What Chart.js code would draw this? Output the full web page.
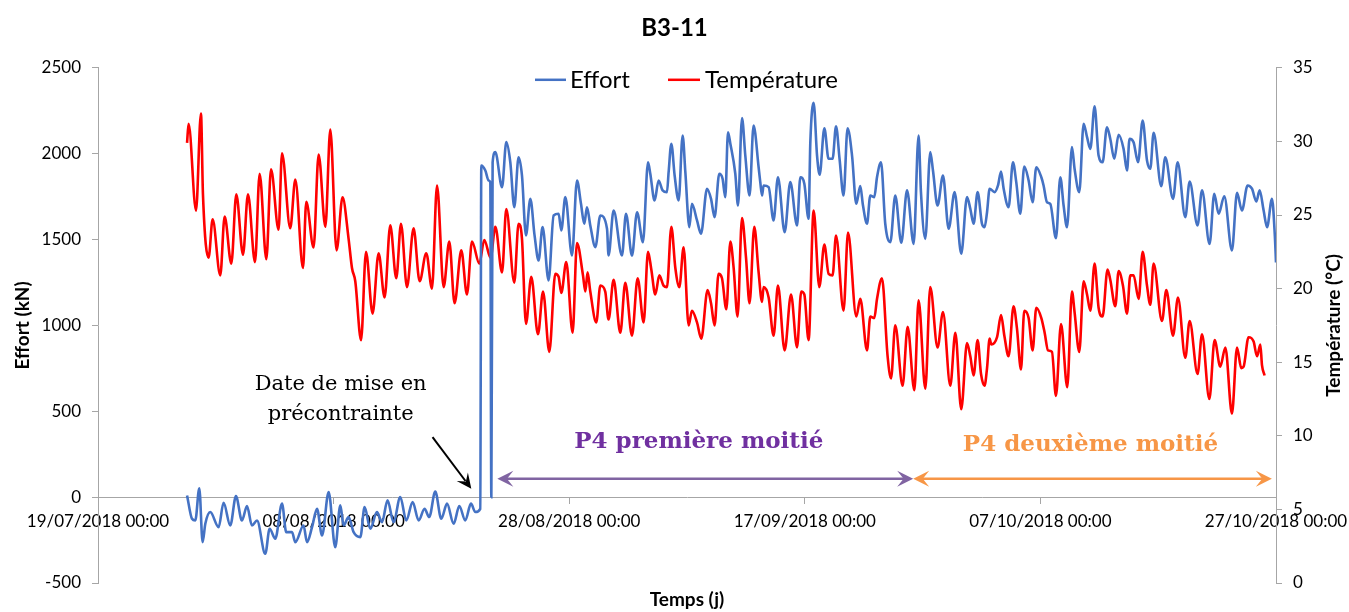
<!DOCTYPE html>
<html lang="fr">
<head>
<meta charset="utf-8">
<title>B3-11</title>
<script src="https://cdn.jsdelivr.net/npm/chart.js@4.4.1/dist/chart.umd.min.js"></script>
<style>
    html, body { margin: 0; padding: 0; background: #fff; }
    #wrap { position: relative; width: 1349px; height: 612px; }
</style>
</head>
<body>
<div id="wrap"><canvas id="chart"></canvas></div>
<script>
// ---- data (days since 19/07/2018 00:00) ----
const effortDays = [
    7.56, 7.98, 8.26, 8.60, 8.88, 9.11, 9.53, 10.24, 10.66, 11.23,
    11.71, 12.22, 12.65, 13.07, 13.50, 14.20, 14.57, 15.05, 15.62, 15.98,
    16.47, 16.75, 17.45, 17.74, 18.17, 18.59, 19.02, 19.58, 20.14, 20.57,
    20.85, 21.27, 21.70, 22.27, 22.63, 23.12, 23.68, 24.11, 24.58, 25.09,
    25.66, 26.17, 26.71, 27.22, 27.72, 28.12, 28.63, 29.14, 29.63, 30.19,
    30.67, 31.18, 31.66, 32.03, 32.45, 32.54, 32.88, 33.16, 33.30, 33.39,
    33.50, 33.73, 34.30, 34.66, 35.00, 35.34, 35.70, 35.99, 36.33, 36.70,
    37.06, 37.40, 37.74, 38.25, 38.68, 39.10, 39.33, 39.67, 40.24, 40.66,
    41.00, 41.28, 41.51, 41.79, 42.22, 42.64, 43.21, 43.34, 43.77, 44.48,
    44.82, 45.33, 45.76, 46.26, 46.69, 46.88, 47.25, 47.59, 47.93, 48.30,
    48.44, 48.67, 48.95, 49.29, 49.63, 49.86, 50.20, 50.42, 50.85, 51.19,
    51.70, 52.04, 52.34, 52.74, 53.02, 53.25, 53.48, 53.68, 54.10, 54.33,
    54.67, 54.95, 55.31, 55.65, 56.08, 56.22, 56.37, 56.50, 56.93, 57.35,
    57.72, 58.29, 58.77, 59.34, 59.62, 59.96, 60.32, 60.47, 60.75, 61.04,
    61.26, 61.66, 62.02, 62.36, 62.65, 62.95, 63.29, 63.63, 64.01, 64.37,
    64.71, 64.94, 65.28, 65.56, 65.90, 66.13, 66.47, 66.83, 67.26, 67.68,
    68.19, 68.68, 69.24, 69.66, 69.86, 70.23, 70.65, 70.88, 71.27, 71.73,
    72.21, 72.72, 73.28, 73.77, 74.05, 74.33, 74.67, 75.04, 75.26, 75.47,
    75.69, 76.11, 76.40, 76.66, 76.88, 77.30, 77.67, 77.95, 78.29, 78.63,
    79.00, 79.34, 79.65, 80.08, 80.27, 80.56, 80.84, 81.32, 81.69, 81.97,
    82.26, 82.68, 82.90, 83.30, 83.67, 83.96, 84.24, 84.60, 84.94, 85.28,
    85.65, 85.93, 86.27, 86.64, 87.06, 87.35, 87.57, 87.91, 88.29, 88.68,
    89.05, 89.33, 89.61, 90.26, 90.60, 91.26, 91.65, 92.30, 92.67, 93.34,
    93.72, 94.36, 94.76, 95.13, 95.61, 96.26, 96.69, 97.11, 97.59, 97.96,
    98.33, 98.61, 98.95, 99.24, 99.66, 99.90, 100.0
];
const effortKN = [
    10, -126, -136, 52, -262, -155, -87, -175, -33, -165,
    6, -136, -52, -165, -136, -330, -184, -242, -38, -204,
    -204, -262, -165, -262, -175, -68, -223, 29, -291, -48,
    -165, -116, -204, -233, -58, -184, -87, -146, -19, -146,
    0, -136, -29, -136, -68, -116, 33, -126, -38, -155,
    -52, -136, -38, -87, -68, 1931, 1902, 1844, 1834, 0,
    1950, 2009, 1805, 2067, 1950, 1688, 1979, 1873, 1524, 1737,
    1524, 1378, 1572, 1262, 1640, 1650, 1553, 1747, 1407, 1844,
    1708, 1592, 1688, 1582, 1456, 1640, 1563, 1407, 1669, 1407,
    1650, 1407, 1659, 1485, 1950, 1885, 1727, 1844, 1786, 1776,
    1892, 2058, 1873, 1727, 2106, 1892, 1572, 1708, 1611, 1534,
    1796, 1737, 1630, 1883, 1854, 1747, 2125, 2058, 1883, 1698,
    2207, 1989, 1756, 2164, 1921, 1834, 1756, 1815, 1805, 1611,
    1863, 1543, 1834, 1582, 1863, 1825, 1621, 2067, 2296, 1989,
    1877, 2148, 1970, 1970, 2160, 1970, 1756, 2148, 1989, 1708,
    1811, 1698, 1592, 1756, 1747, 1863, 1950, 1592, 1485, 1756,
    1481, 1786, 1475, 2106, 1776, 1504, 2009, 1902, 1698, 1873,
    1563, 1776, 1417, 1747, 1679, 1592, 1776, 1592, 1572, 1659,
    1796, 1776, 1815, 1896, 1796, 1688, 1950, 1834, 1650, 1925,
    1844, 1717, 1921, 1863, 1815, 1717, 1708, 1508, 1863, 1698,
    1572, 2038, 1912, 1776, 2174, 2096, 2028, 2276, 1989, 1950,
    2154, 2087, 1970, 2110, 2028, 1902, 2087, 2067, 1950, 2193,
    1960, 1912, 2122, 1811, 1979, 1737, 1950, 1630, 1838, 1582,
    1786, 1475, 1766, 1650, 1752, 1436, 1772, 1669, 1815, 1796,
    1722, 1786, 1669, 1572, 1737, 1524, 1366
];
const tempDays = [
    7.56, 7.69, 8.32, 8.74, 8.91, 9.39, 9.73, 10.38, 10.75, 11.32,
    11.74, 12.31, 12.73, 13.33, 13.72, 14.29, 14.69, 15.33, 15.62, 16.32,
    16.75, 17.40, 17.68, 18.30, 18.73, 19.30, 19.72, 20.25, 20.76, 21.27,
    21.56, 21.84, 22.33, 22.75, 23.31, 23.82, 24.33, 24.81, 25.32, 25.72,
    26.23, 26.79, 27.30, 27.87, 28.35, 28.78, 29.34, 29.82, 30.27, 30.84,
    31.32, 31.75, 32.37, 32.79, 33.33, 33.73, 34.30, 34.66, 35.34, 35.70,
    35.99, 36.33, 36.78, 37.35, 37.78, 38.31, 38.82, 39.10, 39.33, 39.75,
    40.29, 40.66, 41.17, 41.37, 41.56, 41.79, 42.30, 42.64, 43.06, 43.34,
    43.77, 44.34, 44.76, 45.33, 45.81, 46.32, 46.69, 46.97, 47.31, 47.65,
    48.01, 48.30, 48.67, 49.01, 49.35, 49.71, 50.14, 50.42, 50.85, 51.21,
    51.75, 52.04, 52.34, 52.68, 52.97, 53.34, 53.68, 53.96, 54.29, 54.67,
    55.01, 55.31, 55.71, 56.08, 56.37, 56.50, 56.93, 57.35, 57.72, 58.29,
    58.83, 59.34, 59.70, 59.96, 60.32, 60.75, 61.23, 61.66, 62.02, 62.36,
    62.65, 63.29, 63.67, 64.37, 64.71, 65.28, 65.56, 65.90, 66.13, 66.55,
    67.03, 67.32, 67.68, 68.30, 68.73, 69.30, 69.66, 70.23, 70.65, 71.27,
    71.73, 72.35, 72.78, 73.28, 73.77, 74.05, 74.33, 74.67, 74.96, 75.26,
    75.47, 75.69, 75.83, 76.32, 76.66, 76.94, 77.30, 77.72, 78.01, 78.35,
    78.63, 79.00, 79.34, 79.65, 80.08, 80.36, 80.65, 80.98, 81.32, 81.75,
    82.28, 82.68, 82.90, 83.30, 83.67, 83.96, 84.24, 84.60, 84.94, 85.28,
    85.70, 85.93, 86.36, 86.64, 87.01, 87.35, 87.63, 87.91, 88.34, 88.68,
    89.05, 89.33, 89.61, 90.32, 90.69, 91.26, 91.68, 92.30, 92.67, 93.34,
    93.72, 94.34, 94.79, 95.27, 95.70, 96.26, 96.69, 97.05, 97.25, 97.67,
    98.10, 98.39, 98.67, 98.81, 99.03
];
const tempC = [
    29.9, 31.2, 25.3, 31.9, 26.4, 22.1, 24.7, 20.9, 24.9, 21.7,
    26.4, 22.3, 26.4, 21.8, 27.8, 22.0, 28.1, 24.0, 29.2, 24.1,
    27.4, 21.4, 25.9, 22.8, 29.1, 24.2, 30.8, 22.6, 26.2, 23.4,
    21.4, 20.5, 16.5, 22.5, 18.3, 22.4, 19.4, 24.3, 20.7, 24.4,
    20.1, 24.1, 20.5, 22.4, 20.0, 27.0, 20.1, 23.2, 19.0, 22.6,
    19.6, 23.2, 21.7, 23.3, 22.1, 24.2, 21.1, 25.4, 20.4, 24.4,
    23.4, 17.6, 20.8, 16.9, 19.8, 15.7, 21.0, 20.8, 19.7, 21.8,
    17.0, 23.1, 20.9, 19.8, 21.1, 19.8, 17.7, 20.2, 19.8, 17.9,
    20.6, 17.0, 20.4, 16.8, 20.7, 17.7, 22.5, 21.3, 19.6, 20.9,
    20.2, 20.1, 24.2, 21.4, 20.1, 22.8, 17.5, 18.5, 17.7, 16.6,
    19.9, 19.0, 17.5, 21.0, 20.7, 18.6, 23.2, 21.4, 18.1, 24.8,
    22.1, 19.0, 24.2, 21.1, 19.1, 20.1, 19.4, 16.8, 20.2, 15.8,
    19.6, 16.0, 19.8, 19.6, 16.5, 25.3, 20.1, 23.0, 21.0, 20.9,
    23.6, 18.5, 23.8, 18.1, 19.3, 15.8, 18.1, 18.0, 19.3, 20.7,
    15.4, 13.9, 17.5, 13.4, 17.4, 13.1, 19.2, 13.2, 20.1, 16.0,
    18.4, 13.4, 17.0, 11.8, 16.3, 15.4, 14.1, 16.5, 14.2, 13.4,
    14.6, 16.6, 16.2, 16.7, 18.2, 16.8, 15.4, 18.8, 17.3, 14.5,
    18.5, 18.0, 15.8, 18.7, 18.0, 17.0, 15.8, 15.7, 12.7, 17.6,
    13.3, 19.8, 18.4, 15.7, 20.5, 19.6, 18.5, 21.7, 18.7, 18.1,
    21.3, 20.6, 18.8, 21.2, 20.2, 18.3, 20.9, 20.9, 19.3, 22.5,
    20.2, 18.9, 21.7, 17.8, 19.9, 16.8, 19.4, 15.3, 17.8, 14.2,
    16.9, 12.5, 16.5, 14.7, 16.0, 11.5, 16.0, 14.6, 14.7, 16.7,
    16.4, 15.4, 16.2, 14.8, 14.1
];

// annotation spans (days) for the two halves of P4
const phase1 = [33.9, 69.2];
const phase2 = [69.2, 99.65];

const startUTC = Date.UTC(2018, 6, 19);
const pad2 = n => String(n).padStart(2, '0');
function dayLabel(v) {
    const d = new Date(startUTC + v * 86400000);
    return pad2(d.getUTCDate()) + '/' + pad2(d.getUTCMonth() + 1) + '/' + d.getUTCFullYear() + ' 00:00';
}

const BLUE = '#4472C4';
const RED = '#FF0000';
const PURPLE = '#8064A2';
const ORANGE = '#F79646';
const AXIS = '#A6A6A6';
const SANS = 'Lato, "Open Sans", sans-serif';
const SERIF = '"DejaVu Serif", "Liberation Serif", serif';

function arrowHead(ctx, x1, y1, x2, y2, len, half, color) {
    const a = Math.atan2(y2 - y1, x2 - x1);
    const c = Math.cos(a), s = Math.sin(a);
    ctx.fillStyle = color;
    ctx.beginPath();
    ctx.moveTo(x2, y2);
    ctx.lineTo(x2 - len * c + half * s, y2 - len * s - half * c);
    ctx.lineTo(x2 - len * 0.6 * c, y2 - len * 0.6 * s);
    ctx.lineTo(x2 - len * c - half * s, y2 - len * s + half * c);
    ctx.closePath();
    ctx.fill();
}

function doubleArrow(ctx, xa, xb, yy, color) {
    ctx.strokeStyle = color;
    ctx.lineWidth = 2.5;
    ctx.beginPath();
    ctx.moveTo(xa + 8, yy);
    ctx.lineTo(xb - 8, yy);
    ctx.stroke();
    arrowHead(ctx, xb, yy, xa, yy, 16, 8, color);
    arrowHead(ctx, xa, yy, xb, yy, 16, 8, color);
}

const decor = {
    id: 'decor',
    afterDraw(chart) {
        const { ctx, chartArea: a, scales: { x, y } } = chart;
        const px = d => x.getPixelForValue(d);
        const py = v => y.getPixelForValue(v);
        ctx.save();

        // legend, drawn over the plot like the original
        const ly = a.top + 12;
        ctx.lineWidth = 2.5;
        ctx.strokeStyle = BLUE;
        ctx.beginPath(); ctx.moveTo(535, ly); ctx.lineTo(566, ly); ctx.stroke();
        ctx.strokeStyle = RED;
        ctx.beginPath(); ctx.moveTo(668, ly); ctx.lineTo(700, ly); ctx.stroke();
        ctx.fillStyle = '#000';
        ctx.font = '24px ' + SANS;
        ctx.textAlign = 'left';
        ctx.textBaseline = 'middle';
        ctx.fillText('Effort', 570, ly);
        ctx.fillText('Température', 705, ly);

        // axis titles
        ctx.font = 'bold 19px ' + SANS;
        ctx.textAlign = 'center';
        const midY = (a.top + a.bottom) / 2;
        ctx.save();
        ctx.translate(23, midY);
        ctx.rotate(-Math.PI / 2);
        ctx.fillText('Effort (kN)', 0, 0);
        ctx.restore();
        ctx.save();
        ctx.translate(1334, midY);
        ctx.rotate(-Math.PI / 2);
        ctx.fillText('Température (°C)', 0, 0);
        ctx.restore();
        ctx.fillText('Temps (j)', (a.left + a.right) / 2, 600);

        // prestress note + arrow
        ctx.font = '21px ' + SERIF;
        ctx.fillText('Date de mise en', px(20.6), py(654));
        ctx.fillText('précontrainte', px(20.6), py(480));
        ctx.strokeStyle = '#000';
        ctx.lineWidth = 2;
        const ax1 = px(28.4), ay1 = py(349), ax2 = px(31.69), ay2 = py(49);
        ctx.beginPath(); ctx.moveTo(ax1, ay1); ctx.lineTo(ax2 - (ax2 - ax1) * 0.15, ay2 - (ay2 - ay1) * 0.15); ctx.stroke();
        arrowHead(ctx, ax1, ay1, ax2, ay2, 15, 7, '#000');

        // P4 halves
        const yArrow = py(107);
        doubleArrow(ctx, px(phase1[0]), px(phase1[1]), yArrow, PURPLE);
        doubleArrow(ctx, px(phase2[0]), px(phase2[1]), yArrow, ORANGE);
        ctx.font = 'bold 23px ' + SERIF;
        ctx.fillStyle = '#7030A0';
        ctx.fillText('P4 première moitié', px(51.0), py(318));
        ctx.fillStyle = ORANGE;
        ctx.fillText('P4 deuxième moitié', px(84.25), py(305));

        ctx.restore();
    }
};

const tickFont = { family: SANS, size: 17 };

new Chart(document.getElementById('chart'), {
    type: 'line',
    data: {
        datasets: [
            {
                label: 'Effort',
                data: effortDays.map((d, i) => ({ x: d, y: effortKN[i] })),
                borderColor: BLUE,
                backgroundColor: BLUE,
                borderWidth: 2.6,
                pointRadius: 0,
                cubicInterpolationMode: 'monotone',
                yAxisID: 'y'
            },
            {
                label: 'Température',
                data: tempDays.map((d, i) => ({ x: d, y: tempC[i] })),
                borderColor: RED,
                backgroundColor: RED,
                borderWidth: 2.6,
                pointRadius: 0,
                cubicInterpolationMode: 'monotone',
                yAxisID: 'y1'
            }
        ]
    },
    options: {
        responsive: true,
        maintainAspectRatio: false,
        animation: false,
        layout: { padding: { top: 0, bottom: 29, left: 0, right: 0 } },
        plugins: {
            legend: { display: false },
            tooltip: { enabled: false },
            title: {
                display: true,
                text: 'B3-11',
                color: '#000',
                font: { family: SANS, size: 24, weight: 'bold' },
                padding: { top: 14, bottom: 25 }
            }
        },
        scales: {
            x: {
                type: 'linear',
                min: 0,
                max: 100,
                position: { y: 0 },
                ticks: {
                    stepSize: 20,
                    autoSkip: false,
                    maxRotation: 0,
                    color: '#000',
                    font: tickFont,
                    padding: 8,
                    callback: v => dayLabel(v)
                },
                grid: { drawOnChartArea: false, color: AXIS, tickLength: 6 },
                border: { color: AXIS },
                afterFit: s => { s.paddingLeft = 0; s.paddingRight = 0; }
            },
            y: {
                position: 'left',
                min: -500,
                max: 2500,
                ticks: { stepSize: 500, color: '#000', font: tickFont, padding: 11, callback: v => String(v) },
                grid: { drawOnChartArea: false, color: AXIS, tickLength: 6 },
                border: { color: AXIS },
                afterFit: s => { s.width = 98; }
            },
            y1: {
                position: 'right',
                min: 0,
                max: 35,
                ticks: { stepSize: 5, color: '#000', font: tickFont, padding: 11, callback: v => String(v) },
                grid: { drawOnChartArea: false, color: AXIS, tickLength: 6 },
                border: { color: AXIS },
                afterFit: s => { s.width = 73; }
            }
        }
    },
    plugins: [decor]
});
</script>
</body>
</html>
